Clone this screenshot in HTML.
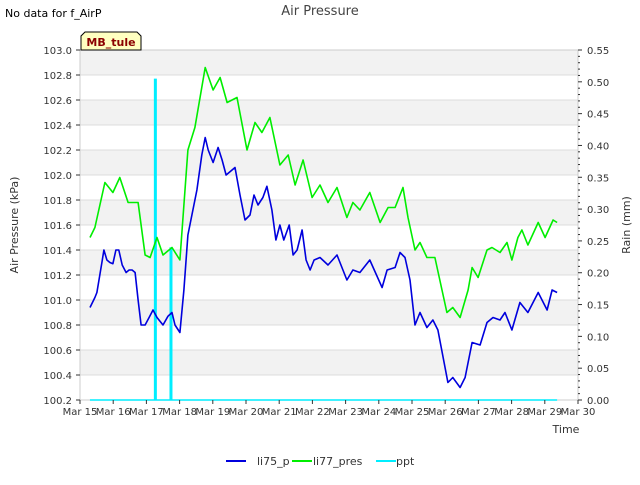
<!DOCTYPE html>
<html><head><meta charset="utf-8"><style>
body{margin:0;background:#fff;font-family:"Liberation Sans","DejaVu Sans",sans-serif;}
svg text{font-family:"DejaVu Sans","Liberation Sans",sans-serif;}
</style></head><body>
<svg id="c" width="640" height="480" viewBox="0 0 640 480" xmlns="http://www.w3.org/2000/svg">
<text x="5" y="17" font-size="11" fill="#000">No data for f_AirP</text>
<text x="320" y="15" font-size="13" fill="#444" text-anchor="middle">Air Pressure</text>
<g id="grid"></g>
<g id="plot"></g>
<g id="axes"></g>
<g>
<path d="M81,50 L81,36 L85,32 L137,32 L141,36 L141,50 Z" fill="#ffffc0" stroke="#000" stroke-width="1"/>
<text x="111" y="46" font-size="11" font-weight="bold" fill="#8b0000" text-anchor="middle">MB_tule</text>
</g>
<text transform="translate(18,225) rotate(-90)" font-size="11" fill="#333" text-anchor="middle">Air Pressure (kPa)</text>
<text transform="translate(630,225) rotate(-90)" font-size="11" fill="#333" text-anchor="middle">Rain (mm)</text>
<text x="566" y="433" font-size="11" fill="#333" text-anchor="middle">Time</text>
<g>
<g><line x1="226" y1="461" x2="246" y2="461" stroke="#0000dd" stroke-width="2"/><text x="257" y="465" font-size="11" fill="#333">li75_p</text></g>
<g><line x1="292" y1="461" x2="312" y2="461" stroke="#00ee00" stroke-width="2"/><text x="313" y="465" font-size="11" fill="#333">li77_pres</text></g>
<g><line x1="376" y1="461" x2="396" y2="461" stroke="#00eeff" stroke-width="2"/><text x="396" y="465" font-size="11" fill="#333">ppt</text></g>
</g>
</svg>
<script>
const xTickLabels=["Mar 15","Mar 16","Mar 17","Mar 18","Mar 19","Mar 20","Mar 21","Mar 22","Mar 23","Mar 24","Mar 25","Mar 26","Mar 27","Mar 28","Mar 29","Mar 30"];
const yTicks=[100.2,100.4,100.6,100.8,101.0,101.2,101.4,101.6,101.8,102.0,102.2,102.4,102.6,102.8,103.0];
const y2Ticks=[0,0.05,0.1,0.15,0.2,0.25,0.3,0.35,0.4,0.45,0.5,0.55];
const li75Days=[0.30,0.45,0.51,0.66,0.72,0.81,0.90,0.99,1.08,1.17,1.27,1.39,1.48,1.57,1.66,1.75,1.84,1.96,2.08,2.20,2.32,2.50,2.65,2.77,2.86,3.01,3.13,3.25,3.40,3.52,3.67,3.77,3.86,4.01,4.16,4.28,4.40,4.49,4.67,4.82,4.97,5.12,5.24,5.36,5.51,5.63,5.78,5.90,6.02,6.14,6.30,6.42,6.54,6.69,6.81,6.93,7.05,7.23,7.47,7.74,8.04,8.22,8.43,8.73,9.10,9.25,9.49,9.64,9.79,9.94,10.09,10.24,10.45,10.63,10.78,11.08,11.23,11.45,11.60,11.81,12.05,12.26,12.44,12.65,12.80,13.01,13.25,13.49,13.80,14.07,14.22,14.37];
const li75Values=[100.94,101.02,101.06,101.30,101.40,101.32,101.30,101.29,101.40,101.40,101.28,101.22,101.24,101.24,101.22,101.00,100.80,100.80,100.86,100.92,100.86,100.80,100.87,100.90,100.80,100.74,101.08,101.52,101.72,101.88,102.16,102.30,102.20,102.10,102.22,102.12,102.00,102.02,102.06,101.84,101.64,101.68,101.84,101.76,101.82,101.91,101.72,101.48,101.60,101.48,101.60,101.36,101.40,101.56,101.32,101.24,101.32,101.34,101.28,101.36,101.16,101.24,101.22,101.32,101.10,101.24,101.26,101.38,101.34,101.16,100.80,100.90,100.78,100.84,100.76,100.34,100.38,100.30,100.38,100.66,100.64,100.82,100.86,100.84,100.90,100.76,100.98,100.90,101.06,100.92,101.08,101.06];
const li77Days=[0.30,0.45,0.75,0.99,1.20,1.45,1.75,1.96,2.11,2.32,2.50,2.77,3.01,3.25,3.46,3.77,4.01,4.22,4.43,4.73,5.03,5.27,5.48,5.72,6.02,6.27,6.48,6.72,6.99,7.23,7.47,7.74,8.04,8.22,8.43,8.73,9.04,9.28,9.49,9.73,9.88,10.09,10.24,10.45,10.69,11.05,11.23,11.45,11.69,11.81,11.99,12.26,12.41,12.65,12.86,13.01,13.19,13.31,13.49,13.80,14.01,14.25,14.37];
const li77Values=[101.50,101.58,101.94,101.86,101.98,101.78,101.78,101.36,101.34,101.50,101.36,101.42,101.32,102.20,102.38,102.86,102.68,102.78,102.58,102.62,102.20,102.42,102.34,102.46,102.08,102.16,101.92,102.12,101.82,101.92,101.78,101.90,101.66,101.78,101.72,101.86,101.62,101.74,101.74,101.90,101.66,101.40,101.46,101.34,101.34,100.90,100.94,100.86,101.08,101.26,101.18,101.40,101.42,101.38,101.46,101.32,101.50,101.56,101.44,101.62,101.50,101.64,101.62];
const pptDays=[2.27,2.74];
const pptValues=[0.505,0.24];
const pptRange=[0.30,14.37];

const NS="http://www.w3.org/2000/svg";
const X0=80,X1=578,Y0=400,Y1=50;
const xs=d=>X0+(X1-X0)*d/15;
const ys=v=>Y0-(v-100.2)/(103.0-100.2)*(Y0-Y1);
const ys2=v=>Y0-v/0.55*(Y0-Y1);
function mk(tag,attrs,parent){const e=document.createElementNS(NS,tag);for(const k in attrs)e.setAttribute(k,attrs[k]);parent.appendChild(e);return e;}
const grid=document.getElementById('grid'),plot=document.getElementById('plot'),axes=document.getElementById('axes');
for(let i=0;i<yTicks.length-1;i++){
  if(i%2===1){const r=mk('rect',{x:X0,y:ys(yTicks[i+1]),width:X1-X0,height:ys(yTicks[i])-ys(yTicks[i+1]),fill:'#f2f2f2'},grid);
  
  }
}
yTicks.forEach(v=>{const l=mk('line',{x1:X0,x2:X1,y1:ys(v),y2:ys(v),stroke:'#dcdcdc','stroke-width':1},grid);

});
mk('rect',{x:X0,y:Y1,width:X1-X0,height:Y0-Y1,fill:'none',stroke:'#ccc'},grid);
// ppt
const pb=mk('line',{x1:xs(pptRange[0]),x2:xs(pptRange[1]),y1:ys2(0),y2:ys2(0),stroke:'#00eeff','stroke-width':1.5},plot);


pptDays.forEach((d,i)=>{const b=mk('rect',{x:xs(d)-1.5,y:ys2(pptValues[i]),width:3,height:ys2(0)-ys2(pptValues[i]),fill:'#00eeff'},plot);

});
function line(days,vals,color,name){const p=mk('polyline',{points:days.map((d,i)=>xs(d).toFixed(1)+','+ys(vals[i]).toFixed(1)).join(' '),fill:'none',stroke:color,'stroke-width':1.6,'stroke-linejoin':'round'},plot);

}
line(li77Days,li77Values,'#00ee00','li77-pres-line');
line(li75Days,li75Values,'#0000dd','li75-p-line');
// axes ticks
yTicks.forEach(v=>{mk('line',{x1:X0-4,x2:X0,y1:ys(v),y2:ys(v),stroke:'#333'},axes);
const t=mk('text',{x:X0-8,y:ys(v)+4,'font-size':10,'text-anchor':'end',fill:'#333'},axes);t.textContent=v.toFixed(1);

});
for(let k=0;k<=55;k++){const v=k/100;mk('line',{x1:X1,x2:X1+(k%5===0?4:2),y1:ys2(v),y2:ys2(v),stroke:'#333'},axes);}
y2Ticks.forEach(v=>{const t=mk('text',{x:X1+9,y:ys2(v)+4,'font-size':10,fill:'#333'},axes);t.textContent=v.toFixed(2);

});
xTickLabels.forEach((s,i)=>{mk('line',{x1:xs(i),x2:xs(i),y1:Y0,y2:Y0+4,stroke:'#333'},axes);
const t=mk('text',{x:xs(i),y:Y0+15,'font-size':10,'text-anchor':'middle',fill:'#333'},axes);t.textContent=s;

});
</script>
</body></html>
